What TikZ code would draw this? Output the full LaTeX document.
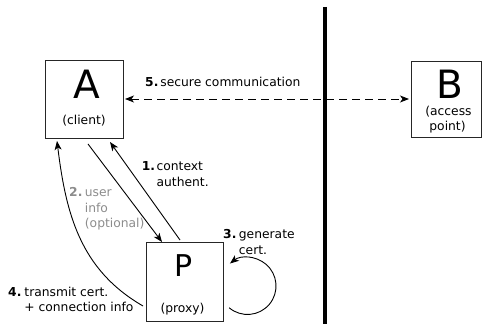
\documentclass[tikz,border=0pt]{standalone}
\usepackage{fontspec}
\setmainfont{DejaVu Sans}
\usetikzlibrary{arrows.meta}
\definecolor{optgray}{RGB}{140,140,140}
\newcommand{\lblfont}{\fontsize{12.3}{15.5}\selectfont}
\begin{document}
\begin{tikzpicture}[x=1pt,y=1pt,
  box/.style={draw=black!85,line width=1pt,inner sep=0pt,outer sep=0pt,fill=white},
  bigletter/.style={inner sep=0pt,anchor=base,font=\fontsize{39}{39}\selectfont},
  sub/.style={inner sep=0pt,anchor=base,font=\lblfont},
  lbl/.style={inner sep=0pt,anchor=base west,font=\lblfont},
  arr/.style={line width=0.9pt,-{Stealth[length=9pt,width=7pt,inset=2.5pt]}},
  dbl/.style={line width=0.9pt,dash pattern=on 8pt off 5pt,{Stealth[length=9pt,width=7pt,inset=2.5pt]}-{Stealth[length=9pt,width=7pt,inset=2.5pt]}}
]
\useasboundingbox (0,0) rectangle (482,324);
% wall
\coordinate (wtop) at (325,317);
\coordinate (wbot) at (325,0);
\draw[line width=4pt] (wtop) -- (wbot);
% boxes
\node[box,minimum width=78pt,minimum height=78pt] (A) at (84,224) {};
\node[box,minimum width=77pt,minimum height=79pt] (P) at (184.5,41.5) {};
\node[box,minimum width=70pt,minimum height=76pt] (B) at (446,224) {};
% box texts
\node[bigletter] (Al) at (86.5,225) {A};
\node[sub] (As) at (84,199.5) {(client)};
\node[bigletter,font=\fontsize{30}{30}\selectfont] (Pl) at (184,47) {P};
\node[sub] (Ps) at (182.5,11.5) {(proxy)};
\node[bigletter] (Bl) at (450,225) {B};
\node[sub] (Bs1) at (448.5,208) {(access};
\node[sub] (Bs2) at (447.5,193) {point)};
% labels
\node[lbl] (l5) at (145,237.5) {\textbf{5.}\hspace{2pt}secure communication};
\node[lbl] (l1) at (141.7,153) {\begin{tabular}[t]{@{}l@{\hspace{1.5pt}}l@{}}\textbf{1.}&context\\ &authent.\end{tabular}};
\node[lbl,text=optgray] (l2) at (69,127) {\begin{tabular}[t]{@{}l@{\hspace{2.5pt}}l@{}}\textbf{2.}&user\\ &info\\ &(optional)\end{tabular}};
\node[lbl] (l3) at (223,85) {\begin{tabular}[t]{@{}l@{\hspace{2.5pt}}l@{}}\textbf{3.}&generate\\ &cert.\end{tabular}};
\node[lbl] (l4) at (8,27.5) {\begin{tabular}[t]{@{}l@{\hspace{3pt}}l@{}}\textbf{4.}&transmit cert.\\ &+ connection info\end{tabular}};
% connectors
\draw[dbl] ([xshift=2pt,yshift=1pt]A.east) -- ([xshift=-2pt,yshift=1pt]B.west);
\draw[arr] ([xshift=-4.5pt,yshift=3pt]P.north) -- ([xshift=26pt,yshift=-3pt]A.south);
\draw[arr] ([xshift=4pt,yshift=-5pt]A.south) -- ([xshift=-22.5pt,yshift=1pt]P.north);
\draw[arr] ([xshift=-3pt,yshift=-23.5pt]P.west) to[out=150,in=-83] ([xshift=12pt,yshift=-2pt]A.south west);
\draw[arr] ([xshift=6.2pt,yshift=-25.3pt]P.east) arc[start angle=-130,end angle=128,radius=28.5pt];
\end{tikzpicture}
\end{document}
